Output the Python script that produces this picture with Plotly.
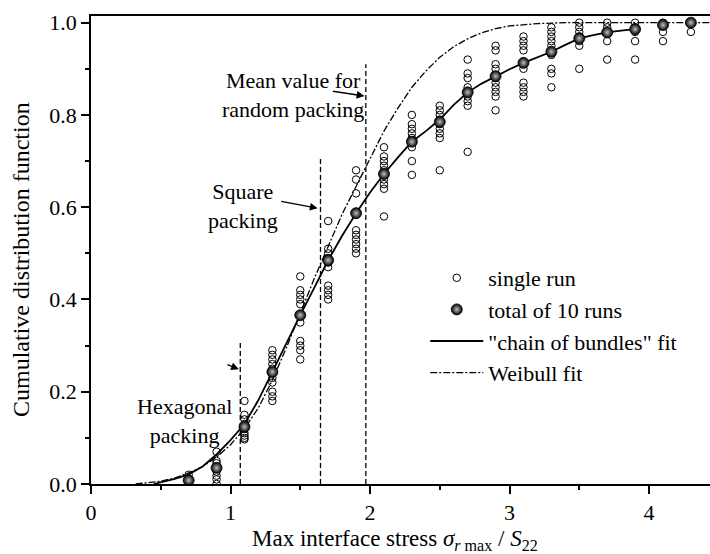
import plotly.graph_objects as go

# ---------------- data ----------------
cluster_x = [0.7, 0.9, 1.1, 1.3, 1.5, 1.7, 1.9, 2.1, 2.3, 2.5,
             2.7, 2.9, 3.1, 3.3, 3.5, 3.7, 3.9, 4.1, 4.3]

single_runs = [
    [0.02, 0.01, 0.01, 0.0, 0.0],
    [0.07, 0.05, 0.045, 0.035, 0.027, 0.018, 0.01, 0.0],
    [0.18, 0.15, 0.14, 0.13, 0.12, 0.11, 0.105, 0.10, 0.097],
    [0.29, 0.28, 0.27, 0.26, 0.25, 0.23, 0.22, 0.20, 0.19, 0.18],
    [0.45, 0.42, 0.41, 0.40, 0.39, 0.35, 0.31, 0.30, 0.29, 0.27],
    [0.57, 0.51, 0.50, 0.49, 0.48, 0.47, 0.43, 0.42, 0.41, 0.40],
    [0.68, 0.66, 0.63, 0.59, 0.55, 0.54, 0.53, 0.52, 0.51, 0.50],
    [0.73, 0.71, 0.70, 0.69, 0.68, 0.67, 0.66, 0.65, 0.64, 0.58],
    [0.80, 0.78, 0.77, 0.76, 0.75, 0.74, 0.73, 0.70, 0.67],
    [0.82, 0.81, 0.80, 0.79, 0.78, 0.77, 0.76, 0.75, 0.68],
    [0.92, 0.89, 0.88, 0.86, 0.85, 0.84, 0.83, 0.82, 0.72],
    [0.95, 0.94, 0.91, 0.90, 0.88, 0.87, 0.86, 0.85, 0.84, 0.81],
    [0.97, 0.96, 0.95, 0.94, 0.91, 0.90, 0.87, 0.86, 0.85, 0.84],
    [0.99, 0.98, 0.97, 0.96, 0.95, 0.94, 0.93, 0.90, 0.89, 0.86],
    [1.0, 0.99, 0.98, 0.97, 0.96, 0.95, 0.90],
    [1.0, 0.99, 0.98, 0.96, 0.92],
    [1.0, 0.99, 0.98, 0.96, 0.92],
    [1.0, 0.98, 0.96],
    [1.0, 0.98],
]

total_runs = [0.008, 0.035, 0.124, 0.243, 0.366, 0.485, 0.587, 0.672, 0.742,
              0.785, 0.849, 0.884, 0.913, 0.937, 0.966, 0.979, 0.986, 0.995, 1.0]

chain_x = [0.45, 0.5, 0.6, 0.7, 0.8, 0.9, 1.0, 1.1, 1.2, 1.3, 1.4, 1.5, 1.6, 1.7,
           1.8, 1.9, 2.0, 2.1, 2.2, 2.3, 2.4, 2.5, 2.6, 2.7, 2.8, 2.9, 3.0, 3.1,
           3.2, 3.3, 3.4, 3.5, 3.6, 3.7, 3.8, 3.9]
chain_y = [0.0, 0.004, 0.011, 0.021, 0.038, 0.064, 0.095, 0.13, 0.182, 0.243,
           0.305, 0.366, 0.425, 0.485, 0.538, 0.587, 0.632, 0.672, 0.708, 0.742,
           0.765, 0.79, 0.822, 0.849, 0.868, 0.884, 0.899, 0.913, 0.925, 0.937,
           0.952, 0.966, 0.973, 0.979, 0.983, 0.986]

weibull_x = [0.32, 0.4, 0.5, 0.6, 0.7, 0.8, 0.9, 1.0, 1.1, 1.2, 1.3, 1.4, 1.5,
             1.6, 1.7, 1.8, 1.9, 2.0, 2.1, 2.2, 2.3, 2.4, 2.5, 2.6, 2.7, 2.8,
             2.9, 3.0, 3.2, 3.4, 4.44]
weibull_y = [0.0, 0.002, 0.006, 0.013, 0.024, 0.038, 0.058, 0.085, 0.12, 0.165,
             0.225, 0.295, 0.37, 0.445, 0.515, 0.585, 0.645, 0.705, 0.765, 0.815,
             0.86, 0.895, 0.925, 0.948, 0.965, 0.978, 0.987, 0.993, 0.998, 1.0, 1.0]

packing_names = ["Hexagonal<br>packing", "Square<br>packing", "Mean value for<br>random packing"]
packing_x = [1.07, 1.645, 1.97]
packing_top = [0.31, 0.71, 0.91]

FONT = "Times New Roman, Liberation Serif, Tinos, serif"

fig = go.Figure()

sx, sy = [], []
for xv, vals in zip(cluster_x, single_runs):
    for v in vals:
        sx.append(xv)
        sy.append(v)

for px, pt in zip(packing_x, packing_top):
    fig.add_trace(go.Scatter(x=[px, px], y=[0, pt], mode="lines",
                             line=dict(color="black", width=1.3, dash="5px,3px"),
                             showlegend=False, hoverinfo="skip"))

fig.add_trace(go.Scatter(x=sx, y=sy, mode="markers", name="single run",
                         marker=dict(symbol="circle-open", size=7.5, color="black",
                                     line=dict(width=1, color="black"))))

fig.add_trace(go.Scatter(x=chain_x, y=chain_y, mode="lines",
                         name="\"chain of bundles\" fit",
                         line=dict(color="black", width=1.8), showlegend=False))
fig.add_trace(go.Scatter(x=weibull_x, y=weibull_y, mode="lines", name="Weibull fit",
                         line=dict(color="black", width=1.3, dash="7px,2px,2px,2px"),
                         showlegend=False))

fig.add_trace(go.Scatter(x=cluster_x, y=total_runs, mode="markers", name="total of 10 runs",
                         marker=dict(symbol="circle", size=11, color="black",
                                     gradient=dict(type="radial", color="#c0c0c0"),
                                     line=dict(width=0.8, color="black"))))

fig.add_trace(go.Scatter(x=[None], y=[None], mode="lines", name="\"chain of bundles\" fit",
                         line=dict(color="black", width=1.8)))
fig.add_trace(go.Scatter(x=[None], y=[None], mode="lines", name="Weibull fit",
                         line=dict(color="black", width=1.3, dash="7px,2px,2px,2px")))

label_pos = [(0.667, 0.137), (1.09, 0.603), (1.445, 0.843)]
for (lx, ly), name in zip(label_pos, packing_names):
    fig.add_annotation(x=lx, y=ly, text=name, showarrow=False,
                       font=dict(family=FONT, size=22, color="black"))

arrow_heads = [(1.06, 0.249, -13, -5), (1.625, 0.598, -38, -7), (1.96, 0.841, -33, -5)]
for hx, hy, axp, ayp in arrow_heads:
    fig.add_annotation(x=hx, y=hy, ax=axp, ay=ayp, text="", showarrow=True,
                       arrowhead=2, arrowsize=1.2, arrowwidth=1.3, arrowcolor="black")

fig.add_annotation(xref="paper", yref="paper", x=(395 - 91) / 619, y=(484 - 540) / 468,
                   xanchor="center", yanchor="middle",
                   text="Max interface stress <i>σ</i><sub><i>r</i> max</sub> / <i>S</i><sub>22</sub>",
                   showarrow=False, font=dict(family=FONT, size=23, color="black"))
fig.add_annotation(xref="paper", yref="paper", x=(21 - 91) / 619, y=(484 - 260) / 468,
                   xanchor="center", yanchor="middle",
                   text="Cumulative distribution function", textangle=-90,
                   showarrow=False, font=dict(family=FONT, size=24, color="black"))

axis_common = dict(showgrid=False, zeroline=False, showline=True, linecolor="black",
                   linewidth=1.5, ticks="outside", ticklen=8, tickwidth=1.5,
                   tickcolor="black", tickfont=dict(family=FONT, size=22, color="black"))

fig.update_xaxes(range=[0, 4.437], dtick=1, tick0=0, mirror=True,
                 minor=dict(dtick=0.5, ticklen=4, ticks="outside", tickwidth=1.5,
                            tickcolor="black"), **axis_common)
fig.update_yaxes(range=[0, 1.0145], dtick=0.2, tick0=0, tickformat=".1f",
                 minor=dict(dtick=0.1, ticklen=4, ticks="outside", tickwidth=1.5,
                            tickcolor="black"), **axis_common)

fig.update_layout(
    width=710, height=554, autosize=False,
    margin=dict(l=91, r=0, t=16, b=70),
    plot_bgcolor="white", paper_bgcolor="white",
    font=dict(family=FONT, size=22, color="black"),
    legend=dict(x=0.54, y=(484 - 257) / 468, xanchor="left", yanchor="top",
                bgcolor="rgba(0,0,0,0)", itemwidth=53,
                font=dict(family=FONT, size=22, color="black"),
                tracegroupgap=0),
)

fig.write_html("out.html")
